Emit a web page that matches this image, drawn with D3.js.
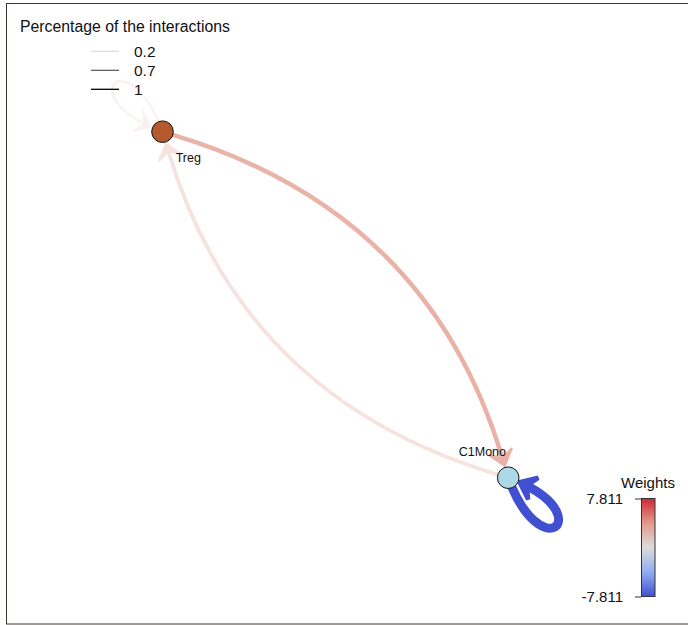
<!DOCTYPE html>
<html><head><meta charset="utf-8">
<script src="https://cdn.jsdelivr.net/npm/d3@7"></script>
<style>body{margin:0;background:#fff;} svg{display:block;font-family:"Liberation Sans",Arial,sans-serif;}</style>
</head><body><svg id="chart" width="688" height="625"></svg>
<script>
// ---- data ----
const nodeNames = ["Treg", "C1Mono"];
const nodeLayoutX = [-1, 1];
const nodeLayoutY = [1, -1];
const nodeColors = ["#b55a2e", "#add8e6"];
const edgeSources = ["Treg", "Treg", "C1Mono", "C1Mono"];
const edgeTargets = ["Treg", "C1Mono", "Treg", "C1Mono"];
const edgeWeights = [1.8, 3.9, 3.3, -7.811];
const edgePercentages = [0.2, 0.75, 0.3, 1];
const legendPercentages = [0.2, 0.7, 1];
const weightExtent = [-7.811, 7.811];
const colorbarTicks = [-7.811, 7.811];

// ---- setup ----
const svg = d3.select("#chart");
svg.append("rect").attr("x", 6.5).attr("y", 3.5).attr("width", 700).attr("height", 620.5)
  .attr("fill", "#fff").attr("stroke", "#3a3330").attr("stroke-width", 1);

const x = d3.scaleLinear().domain([-1, 1]).range([162.5, 508.2]);
const y = d3.scaleLinear().domain([-1, 1]).range([477.7, 131.7]);
const wMax = weightExtent[1];
const color = d3.scaleLinear()
  .domain([-wMax, -wMax / 2, 0, wMax / 2, wMax])
  .range(["#4150d0", "#92aef2", "#dddcdc", "#e3998a", "#cc2a36"])
  .interpolate(d3.interpolateRgb);
const width = d3.scaleLinear().domain([0, wMax]).range([0, 9]);
const R = 10.8;

const nodes = nodeNames.map((n, i) => ({ name: n, x: x(nodeLayoutX[i]), y: y(nodeLayoutY[i]), color: nodeColors[i] }));
const byName = new Map(nodes.map(d => [d.name, d]));
const cx = d3.mean(nodes, d => d.x), cy = d3.mean(nodes, d => d.y);

const edges = edgeSources.map((s, i) => ({
  s: byName.get(s), t: byName.get(edgeTargets[i]), w: edgeWeights[i], p: edgePercentages[i]
}));

function unit(vx, vy) { const l = Math.hypot(vx, vy) || 1; return [vx / l, vy / l]; }
function cubicAt(P, t) {
  const mt = 1 - t;
  return [
    mt*mt*mt*P[0][0] + 3*mt*mt*t*P[1][0] + 3*mt*t*t*P[2][0] + t*t*t*P[3][0],
    mt*mt*mt*P[0][1] + 3*mt*mt*t*P[1][1] + 3*mt*t*t*P[2][1] + t*t*t*P[3][1]
  ];
}
function splitCubic(P, t) {
  const lerp = (a, b) => [a[0] + (b[0] - a[0]) * t, a[1] + (b[1] - a[1]) * t];
  const a = lerp(P[0], P[1]), b = lerp(P[1], P[2]), c = lerp(P[2], P[3]);
  const d = lerp(a, b), e = lerp(b, c), f = lerp(d, e);
  return [P[0], a, d, f];
}
function arrowPath(tip, dir, len, half, notch) {
  const px = -dir[1], py = dir[0];
  const b = [tip[0] - dir[0] * len, tip[1] - dir[1] * len];
  const n = [tip[0] - dir[0] * notch, tip[1] - dir[1] * notch];
  return `M${tip[0]},${tip[1]}L${b[0] + px * half},${b[1] + py * half}L${n[0]},${n[1]}L${b[0] - px * half},${b[1] - py * half}Z`;
}

const edgeLayer = svg.append("g");
const k = 0.27, aLen = 15, aHalf = 12, aNotch = 8;
edges.forEach(e => {
  const g = edgeLayer.append("g").attr("opacity", e.p);
  const col = color(e.w), sw = width(Math.abs(e.w));
  let linePath, aTip, aDir;
  if (e.s !== e.t) {
    const S = [e.s.x, e.s.y], T = [e.t.x, e.t.y];
    const L = Math.hypot(T[0] - S[0], T[1] - S[1]);
    const u = unit(T[0] - S[0], T[1] - S[1]);
    const n = [u[1], -u[0]];
    const C = [(S[0] + T[0]) / 2 + n[0] * k * L, (S[1] + T[1]) / 2 + n[1] * k * L];
    const us = unit(C[0] - S[0], C[1] - S[1]);
    const start = [S[0] + us[0] * R, S[1] + us[1] * R];
    aDir = unit(T[0] - C[0], T[1] - C[1]);
    aTip = [T[0] - aDir[0] * (R + 1.5), T[1] - aDir[1] * (R + 1.5)];
    const end = [aTip[0] - aDir[0] * aNotch, aTip[1] - aDir[1] * aNotch];
    linePath = `M${start[0]},${start[1]}Q${C[0]},${C[1]} ${end[0]},${end[1]}`;
  } else {
    const N = [e.s.x, e.s.y];
    const d = unit(e.s.x - cx, e.s.y - cy);
    const th = 25 * Math.PI / 180, Lp = 100;
    const rot = (v, a) => [v[0] * Math.cos(a) - v[1] * Math.sin(a), v[0] * Math.sin(a) + v[1] * Math.cos(a)];
    const r1 = rot(d, th), r2 = rot(d, -th);
    const P = [N, [N[0] + r1[0] * Lp, N[1] + r1[1] * Lp], [N[0] + r2[0] * Lp, N[1] + r2[1] * Lp], N];
    let lo = 0.5, hi = 1;
    for (let i = 0; i < 40; i++) {
      const m = (lo + hi) / 2, p = cubicAt(P, m);
      if (Math.hypot(p[0] - N[0], p[1] - N[1]) > R + 1.5) lo = m; else hi = m;
    }
    aTip = cubicAt(P, lo);
    const before = cubicAt(P, lo - 0.02);
    aDir = unit(aTip[0] - before[0], aTip[1] - before[1]);
    let lo2 = 0.5, hi2 = lo;
    for (let i = 0; i < 40; i++) {
      const m = (lo2 + hi2) / 2, p = cubicAt(P, m);
      if (Math.hypot(p[0] - aTip[0], p[1] - aTip[1]) > aNotch) lo2 = m; else hi2 = m;
    }
    const Q = splitCubic(P, lo2);
    linePath = `M${Q[0][0]},${Q[0][1]}C${Q[1][0]},${Q[1][1]} ${Q[2][0]},${Q[2][1]} ${Q[3][0]},${Q[3][1]}`;
  }
  g.append("path").attr("d", linePath).attr("fill", "none").attr("stroke", col)
    .attr("stroke-width", sw).attr("stroke-linecap", "butt");
  g.append("path").attr("d", arrowPath(aTip, aDir, aLen, aHalf, aNotch))
    .attr("fill", col).attr("stroke", col).attr("stroke-width", sw * 0.5).attr("stroke-linejoin", "miter");
});

// nodes
svg.append("g").selectAll("circle").data(nodes).join("circle")
  .attr("cx", d => d.x).attr("cy", d => d.y).attr("r", R)
  .attr("fill", d => d.color).attr("stroke", "#111").attr("stroke-width", 1);

// labels
svg.append("g").selectAll("text").data(nodes).join("text")
  .attr("x", d => d.x + unit(cx - d.x, cy - d.y)[0] * 36.5)
  .attr("y", d => d.y + unit(cx - d.x, cy - d.y)[1] * 36.5)
  .attr("dy", "0.35em").attr("text-anchor", "middle")
  .attr("font-size", 12.5).attr("fill", "#111").text(d => d.name);

// legend (percentage)
svg.append("text").attr("x", 20).attr("y", 32).attr("font-size", 15.8).attr("fill", "#111")
  .text("Percentage of the interactions");
const lg = svg.append("g").selectAll("g").data(legendPercentages).join("g")
  .attr("transform", (d, i) => `translate(0,${51.3 + i * 19})`);
lg.append("line").attr("x1", 91).attr("x2", 119).attr("y1", 0).attr("y2", 0)
  .attr("stroke", "#000").attr("stroke-opacity", d => d).attr("stroke-width", d => 0.8 + 0.5 * d);
lg.append("text").attr("x", 134).attr("y", 5.5).attr("font-size", 15.5).attr("fill", "#111").text(d => d);

// colorbar
const defs = svg.append("defs");
const grad = defs.append("linearGradient").attr("id", "cb").attr("x1", 0).attr("x2", 0).attr("y1", 1).attr("y2", 0);
d3.range(21).forEach(i => {
  const v = -wMax + (2 * wMax) * i / 20;
  grad.append("stop").attr("offset", i / 20).attr("stop-color", color(v));
});
const cbY = d3.scaleLinear().domain(weightExtent).range([596.5, 498.5]);
svg.append("rect").attr("x", 641.5).attr("y", 498.5).attr("width", 13.5).attr("height", 98)
  .attr("fill", "url(#cb)").attr("stroke", "#333").attr("stroke-width", 1);
const axis = svg.append("g").attr("transform", "translate(641,0)")
  .call(d3.axisLeft(cbY).tickValues(colorbarTicks).tickSize(6).tickPadding(12).tickFormat(d => d.toFixed(3)));
axis.select(".domain").remove();
axis.selectAll("line").attr("stroke", "#333");
axis.selectAll("text").attr("font-size", 15).attr("fill", "#111").attr("font-family", "Liberation Sans, Arial, sans-serif");
svg.append("text").attr("x", 648).attr("y", 488).attr("text-anchor", "middle").attr("font-size", 15)
  .attr("fill", "#111").text("Weights");
</script></body></html>
